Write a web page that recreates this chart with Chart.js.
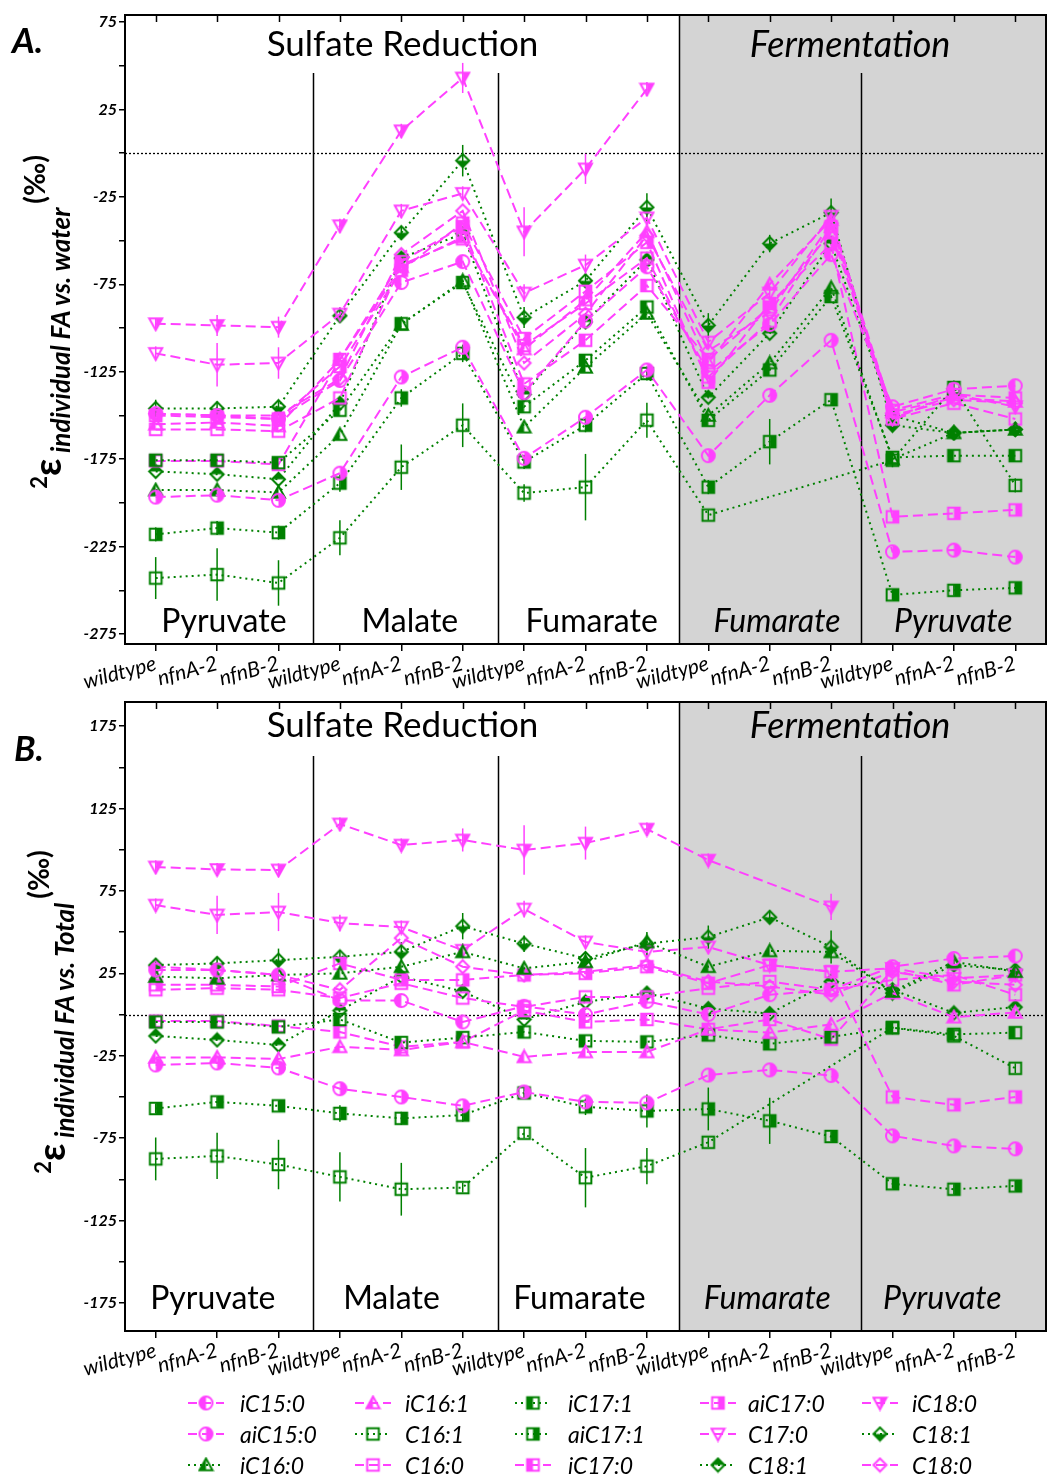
<!DOCTYPE html>
<html>
<head>
<meta charset="utf-8">
<script src="https://cdn.jsdelivr.net/npm/chart.js@4.4.1/dist/chart.umd.min.js"></script>
<style>
  body { margin: 0; background: #fff; width: 1047px; height: 1479px; position: relative; overflow: hidden; font-family: Lato, "Open Sans", sans-serif; }
  canvas { position: absolute; left: 0; }
  .letter { position: absolute; font-weight: bold; font-style: italic; font-size: 35px; }
  .ytitle { position: absolute; white-space: nowrap; transform: translate(-50%, -50%) rotate(-90deg); font-weight: bold; }
  .ytitle .eps { font-size: 38px; }
  .ytitle .sup { font-size: 22px; vertical-align: 14px; }
  .ytitle .sub { font-size: 26px; font-style: italic; vertical-align: -9px; }
  .ytitle .pm { font-size: 28px; vertical-align: 16px; }
  #legend { position: absolute; left: 0; top: 1385px; width: 1047px; }
  .item { position: absolute; height: 30px; line-height: 30px; font-size: 23px; font-style: italic; white-space: nowrap; }
  .item canvas { position: absolute; left: 0; top: 6px; }
  .item span { position: absolute; }
</style>
</head>
<body>
<canvas id="chartA" width="1047" height="700" style="top:0"></canvas>
<canvas id="chartB" width="1047" height="740" style="top:660px"></canvas>
<div class="letter" style="left:12px; top:18px">A.</div>
<div class="letter" style="left:14px; top:726px">B.</div>
<div class="ytitle" style="left:46px; top:322px"><span class="sup">2</span><span class="eps">ε</span><span class="sub"> individual FA vs. water</span> <span class="pm">(‰)</span></div>
<div class="ytitle" style="left:50px; top:1012px"><span class="sup">2</span><span class="eps">ε</span><span class="sub"> individual FA vs. Total</span> <span class="pm">(‰)</span></div>
<div id="legend"></div>
<script>
// x categories: 5 growth conditions x 3 strains
const strains = ['wildtype', 'nfnA-2', 'nfnB-2'];
const conditions = ['Pyruvate', 'Malate', 'Fumarate', 'Fumarate', 'Pyruvate'];
const categories = [].concat(strains, strains, strains, strains, strains);

const fattyAcids = ['iC15:0', 'aiC15:0', 'iC16:0', 'iC16:1', 'C16:1', 'C16:0', 'iC17:1', 'aiC17:1',
  'iC17:0', 'aiC17:0', 'C17:0', 'C18:1', 'iC18:0', 'C18:1', 'C18:0'];

// A. 2e individual FA vs. water (permil)
const waterIC15_0  = [-149, -150, -152, -130, -74, -62, -137, -96, -65, -125, -98, -58, -145, -135, -133];
const waterAiC15_0 = [-196.7, -195.6, -198.5, -183, -128, -111, -174.5, -151, -124, -173, -138.5, -107, -228, -227, -231];
const waterIC16_0  = [-192.7, -192.7, -194, -161, -98, -73, -156.7, -122.5, -91.7, -150, -120, -77, -175, -160, -158];
const waterIC16_1  = [-155, -154, -156, -118, -65, -48, -112, -84, -45, -120, -75, -38, -148, -140, -142];
const waterC16_1   = [-243, -241, -245.8, -220, -179.6, -155.6, -194.4, -191, -152.7, -207, null, null, -175.6, -134, -190];
const waterC16_0   = [-158, -158, -159, -140, -64, -49, -110, -86, -60, -128, -96, -42, -152, -143, -152];
const waterIC17_1  = [-175.6, -175.6, -177, -147, -97.5, -74, -145, -118.5, -88, -152.8, -124, -82, -174, -173, -173];
const waterAiC17_1 = [-218, -214.4, -217, -188.7, -140, -114.5, -176.6, -155.6, -126, -191, -165, -141, -252.6, -250, -248.6];
const waterIC17_0  = [-176, -176, -178, -118, -62, -42, -132, -107, -75.7, -118, -88, -45, -147, -138, -140];
const waterAiC17_0 = [-150, -151, -152, -122, -67, -40, -106, -79, -51, -131, -86, -52, -208, -206, -204];
const waterC17_0   = [-114.5, -121, -120, -92, -33, -23, -80, -64, -37, -108, -80, -36, -152, -138, -145];
const waterC18_1a  = [-182, -183.6, -186.5, -143, -60, -46, -138, -96.5, -61, -139.6, -103, -51.7, -150, -160, -158];
const waterIC18_0  = [-97.5, -98.5, -99.5, -41.5, 12.8, 43, -45, -9, 36.7, null, null, null, null, null, null];
const waterC18_1b  = [-146, -146, -145, -93, -45.5, -4.3, -94, -73, -31, -98.5, -51.7, -34, -155.6, -160, -158];
const waterC18_0   = [-149, -150, -150, -129, -58, -33, -120, -92, -47, -113, -91, -40, -150, -141, -143];

// A. error bars (+/-) for the series where they stand out
const waterC16_1Err   = [12, 15, 13, 10, 13, 12.5, 5, 19, 10, 3, null, null, 4, 4, 4];
const waterAiC17_1Err = [4, 4, 4, 5, 5, 5, 4, 4, 4, 4, 13, 3, 3, 3, 3];
const waterC17_0Err   = [4, 12.5, 9, 4, 4, 4, 5, 6, 4, 4, 4, 4, 4, 4, 4];
const waterIC18_0Err  = [3, 6, 6, 4, 4, 8.6, 14, 8.6, 4, null, null, null, null, null, null];
const waterC18_1bErr  = [5, 4, 4, 4, 4, 9, 6, 4, 8, 7, 5, 8, 4, 4, 4];

// B. 2e individual FA vs. total (permil)
const totalIC15_0  = [27, 27, 24, 8.5, 8.5, -4.5, 5, 0, 8, 0, 12, 15, 29, 34, 35.5];
const totalAiC15_0 = [-30.6, -29.4, -32.4, -45, -50, -55.4, -47, -53, -53.6, -36.7, -33.6, -37, -73.6, -79.7, -81.5];
const totalIC16_0  = [23, 22, 24, 25, 29, 38, 28, 32, 44, 29, 38.6, 38, 14, 32, 26];
const totalIC16_1  = [-26, -26, -27, -19.6, -21.5, -16.6, -25.7, -22.7, -22.7, -9, -11, -6, 13, -1.6, 1.3];
const totalC16_1   = [-87.6, -85.8, -91, -98.5, -106, -105, -72, -99, -92, -77.5, null, null, -8, -13, -32.6];
const totalC16_0   = [15, 16, 15, 10, 19, 10, 4.6, 10.7, 10.7, 16, 20, 15, 21, 24, 12];
const totalIC17_1  = [-4.5, -4.5, -7.5, -3, -17, -14, -10.6, -16, -16.6, -12.4, -17.8, -13.6, -8, -12, -11];
const totalAiC17_1 = [-57, -53, -55.4, -60, -63, -61, -47.6, -56, -58.5, -57.3, -64.5, -74, -102.7, -106, -104];
const totalIC17_0  = [-4, -4, -7, -10.6, -19.6, -16.6, 2.4, -4.5, -3, -9, -3, -15, 27, 18, 24];
const totalAiC17_0 = [18, 18, 17, 31, 21, 21, 24, 25, 29, 19, 30, 26, -50, -54.8, -50];
const totalC17_0   = [66.4, 60.4, 62.2, 55.5, 53, 39, 64, 44, 38, 41, 30, 26, 28, 22, 24];
const totalC18_1a  = [-13, -15.4, -18.5, 2.4, 23, 14, -3, 7.6, 13, 3.6, 0.6, 20, 15, 1, 4.5];
const totalIC18_0  = [89.5, 88, 87.7, 115.6, 102.8, 105.9, 99.8, 104, 112.5, 93.7, null, 65.3, null, null, null];
const totalC18_1b  = [30, 31, 33, 35, 38, 53.6, 43, 34, 43, 47, 59, 41, 13, 30, 27];
const totalC18_0   = [29, 27, 24, 15, 46.4, 29, 24, 26, 30, 20, 17, 12, 26, 20, 18];

// B. error bars (+/-)
const totalC16_1Err   = [13, 14, 15, 15, 16, 3, 3, 18, 11, 3, null, null, 4, 3, 3];
const totalAiC17_1Err = [3, 3, 3, 5, 4, 4, 3, 5, 10, 13, 14, 3, 3, 3, 3];
const totalC17_0Err   = [4, 11.6, 11.6, 5, 4, 4, 5, 4, 4, 4, 4, 4, 4, 4, 4];
const totalIC18_0Err  = [4, 4, 4, 4, 4, 7, 15, 10, 4, 4, null, 8, null, null, null];
const totalC18_1bErr  = [4, 4, 7, 4, 6, 8, 5, 4, 7, 7, 4, 10, 4, 4, 4];

const yLabelsA = [75, 25, -25, -75, -125, -175, -225, -275];
const yLabelsB = [175, 125, 75, 25, -25, -75, -125, -175];

const waterSeries = [waterIC15_0, waterAiC15_0, waterIC16_0, waterIC16_1, waterC16_1, waterC16_0, waterIC17_1,
  waterAiC17_1, waterIC17_0, waterAiC17_0, waterC17_0, waterC18_1a, waterIC18_0, waterC18_1b, waterC18_0];
const totalSeries = [totalIC15_0, totalAiC15_0, totalIC16_0, totalIC16_1, totalC16_1, totalC16_0, totalIC17_1,
  totalAiC17_1, totalIC17_0, totalAiC17_0, totalC17_0, totalC18_1a, totalIC18_0, totalC18_1b, totalC18_0];
const waterErrors = { 4: waterC16_1Err, 7: waterAiC17_1Err, 10: waterC17_0Err, 12: waterIC18_0Err, 13: waterC18_1bErr };
const totalErrors = { 4: totalC16_1Err, 7: totalAiC17_1Err, 10: totalC17_0Err, 12: totalIC18_0Err, 13: totalC18_1bErr };

const MAG = '#ff40ff', GRN = '#008000';
const FONT = 'Lato, "Open Sans", sans-serif';
// marker look per fatty acid
const looks = [
  [MAG, 'circle', 'left'], [MAG, 'circle', 'right'], [GRN, 'triangle', 'left'],
  [MAG, 'triangle', 'left'], [GRN, 'square', 'none'], [MAG, 'square', 'none'],
  [GRN, 'square', 'left'], [GRN, 'square', 'right'], [MAG, 'square', 'left'],
  [MAG, 'square', 'right'], [MAG, 'triangleDown', 'none'], [GRN, 'diamond', 'top'],
  [MAG, 'triangleDown', 'right'], [GRN, 'diamond', 'bottom'], [MAG, 'diamond', 'none']
];

function makeMarker(color, shape, fill, r) {
  const s = Math.ceil(r * 2 + 4);
  const c = document.createElement('canvas');
  c.width = c.height = s;
  const g = c.getContext('2d');
  const m = s / 2;
  function path() {
    g.beginPath();
    if (shape === 'circle') g.arc(m, m, r, 0, Math.PI * 2);
    else if (shape === 'square') g.rect(m - r * 0.9, m - r * 0.9, r * 1.8, r * 1.8);
    else if (shape === 'triangle') { g.moveTo(m, m - r); g.lineTo(m + r, m + r * 0.8); g.lineTo(m - r, m + r * 0.8); g.closePath(); }
    else if (shape === 'triangleDown') { g.moveTo(m, m + r); g.lineTo(m + r, m - r * 0.8); g.lineTo(m - r, m - r * 0.8); g.closePath(); }
    else { g.moveTo(m, m - r); g.lineTo(m + r, m); g.lineTo(m, m + r); g.lineTo(m - r, m); g.closePath(); }
  }
  if (fill !== 'none') {
    g.save();
    g.beginPath();
    if (fill === 'left') g.rect(0, 0, m, s);
    else if (fill === 'right') g.rect(m, 0, s, s);
    else if (fill === 'top') g.rect(0, 0, s, m);
    else g.rect(0, m, s, s);
    g.clip();
    path();
    g.fillStyle = color;
    g.fill();
    g.restore();
  }
  path();
  g.strokeStyle = color;
  g.lineWidth = 2;
  g.stroke();
  return c;
}

const markers = looks.map(l => makeMarker(l[0], l[1], l[2], 6.5));

function buildDatasets(series, errors) {
  return series.map((vals, i) => ({
    label: fattyAcids[i],
    data: vals,
    errors: errors[i] || null,
    borderColor: looks[i][0],
    backgroundColor: looks[i][0],
    borderWidth: 2,
    borderDash: looks[i][0] === MAG ? [10, 5] : [2, 4],
    pointStyle: markers[i],
    pointRadius: 6,
    fill: false,
    tension: 0,
    spanGaps: true
  }));
}

// gray fermentation block, dividers, zero line, error bars, frame and texts
const panelDecor = {
  id: 'panelDecor',
  beforeDatasetsDraw(chart, args, o) {
    const { ctx, chartArea: a } = chart;
    const x = chart.scales.x, y = chart.scales.y;
    ctx.save();
    const gx = x.getPixelForValue(8.53);
    ctx.fillStyle = '#d4d4d4';
    ctx.fillRect(gx, a.top, a.right - gx, a.bottom - a.top);
    ctx.strokeStyle = '#000';
    ctx.lineWidth = 1.5;
    [2.57, 5.57, 8.53, 11.49].forEach((v, k) => {
      const px = Math.round(x.getPixelForValue(v)) + 0.5;
      ctx.beginPath();
      ctx.moveTo(px, k === 2 ? a.top : a.top + o.divTop);
      ctx.lineTo(px, a.bottom);
      ctx.stroke();
    });
    const zy = Math.round(y.getPixelForValue(0)) + 0.5;
    ctx.lineWidth = 1.3;
    ctx.setLineDash([2, 2]);
    ctx.beginPath();
    ctx.moveTo(a.left, zy);
    ctx.lineTo(a.right, zy);
    ctx.stroke();
    ctx.setLineDash([]);
    ctx.fillStyle = '#000';
    ctx.textAlign = 'center';
    ctx.textBaseline = 'middle';
    ctx.font = '35px ' + FONT;
    ctx.fillText('Sulfate Reduction', x.getPixelForValue(4.02), a.top + o.titleY);
    ctx.font = 'italic 36px ' + FONT;
    ctx.fillText('Fermentation', x.getPixelForValue(11.31), a.top + o.titleY);
    conditions.forEach((c, k) => {
      ctx.font = (k >= 3 ? 'italic ' : '') + '32px ' + FONT;
      ctx.fillText(c, x.getPixelForValue(o.condX[k]), a.bottom - o.condY);
    });
    // error bars
    ctx.lineWidth = 1.5;
    chart.data.datasets.forEach(ds => {
      if (!ds.errors) return;
      ctx.strokeStyle = ds.borderColor;
      ds.data.forEach((v, i) => {
        const e = ds.errors[i];
        if (v === null || !e) return;
        const px = x.getPixelForValue(i);
        ctx.beginPath();
        ctx.moveTo(px, y.getPixelForValue(v + e));
        ctx.lineTo(px, y.getPixelForValue(v - e));
        ctx.stroke();
      });
    });
    ctx.restore();
  },
  afterDraw(chart) {
    const { ctx, chartArea: a } = chart;
    const x = chart.scales.x;
    ctx.save();
    ctx.strokeStyle = '#000';
    ctx.lineWidth = 2;
    ctx.strokeRect(a.left, a.top, a.right - a.left, a.bottom - a.top);
    ctx.lineWidth = 1.5;
    categories.forEach((c, i) => {
      const px = Math.round(x.getPixelForValue(i)) + 0.5;
      ctx.beginPath();
      ctx.moveTo(px, a.top);
      ctx.lineTo(px, a.top + 7);
      ctx.stroke();
    });
    ctx.restore();
  }
};

function makeChart(id, series, errors, yMin, yMax, yLabels, xHeight, decor) {
  const ticks = [];
  yLabels.forEach(v => { ticks.push(v); ticks.push(v - 25); });
  return new Chart(document.getElementById(id), {
    type: 'line',
    data: { labels: categories, datasets: buildDatasets(series, errors) },
    plugins: [panelDecor],
    options: {
      responsive: false,
      animation: false,
      devicePixelRatio: 1,
      layout: { autoPadding: false, padding: { top: decor.top, right: 1, left: 0, bottom: 0 } },
      plugins: { legend: { display: false }, tooltip: { enabled: false }, panelDecor: decor },
      scales: {
        x: {
          type: 'category',
          offset: true,
          grid: { display: true, drawOnChartArea: false, drawTicks: true, tickLength: 7, color: '#000', lineWidth: 1.5, offset: false },
          border: { display: false },
          ticks: { color: '#000', font: { family: FONT, size: 21, style: 'italic' }, minRotation: 15, maxRotation: 15, autoSkip: false, padding: 0 },
          afterFit: s => { s.height = xHeight; s.paddingLeft = 0; s.paddingRight = 0; }
        },
        y: {
          min: yMin,
          max: yMax,
          afterBuildTicks: s => { s.ticks = ticks.filter(v => v >= yMin && v <= yMax).map(v => ({ value: v })); },
          grid: { display: true, drawOnChartArea: false, drawTicks: true, tickLength: 6, color: '#000', lineWidth: 1.5 },
          border: { display: false },
          ticks: {
            color: '#000',
            font: { family: FONT, size: 16, weight: 'bold', style: 'italic' },
            padding: 2,
            callback: v => yLabels.includes(v) ? String(v) : ''
          },
          afterFit: s => { s.width = 125; s.paddingTop = 0; s.paddingBottom = 0; }
        }
      }
    }
  });
}

makeChart('chartA', waterSeries, waterErrors, -280.7, 79, yLabelsA, 56,
  { top: 15, divTop: 58, titleY: 30, condY: 22, condX: [1.11, 4.14, 7.1, 10.12, 12.99] });
makeChart('chartB', totalSeries, totalErrors, -192, 189.6, yLabelsB, 69,
  { top: 42, divTop: 54, titleY: 24, condY: 32, condX: [0.93, 3.84, 6.9, 9.96, 12.81] });

// legend: 5 columns x 3 rows, column-major
const legendCols = [[188, 240], [355, 405], [515, 568], [700, 748], [862, 912]];
const legendRows = [3, 34, 65];
const legendBox = document.getElementById('legend');
fattyAcids.forEach((name, i) => {
  const col = Math.floor(i / 3), row = i % 3;
  const item = document.createElement('div');
  item.className = 'item';
  item.style.left = legendCols[col][0] + 'px';
  item.style.top = legendRows[row] + 'px';
  const icon = document.createElement('canvas');
  icon.width = 36; icon.height = 18;
  const g = icon.getContext('2d');
  g.strokeStyle = looks[i][0];
  g.lineWidth = 2;
  g.setLineDash(looks[i][0] === MAG ? [9, 5] : [2, 4]);
  g.beginPath(); g.moveTo(0, 9); g.lineTo(36, 9); g.stroke();
  g.drawImage(markers[i], 18 - markers[i].width / 2, 9 - markers[i].height / 2);
  item.appendChild(icon);
  const label = document.createElement('span');
  label.style.left = (legendCols[col][1] - legendCols[col][0]) + 'px';
  label.textContent = name;
  item.appendChild(label);
  legendBox.appendChild(item);
});
</script>
</body>
</html>
